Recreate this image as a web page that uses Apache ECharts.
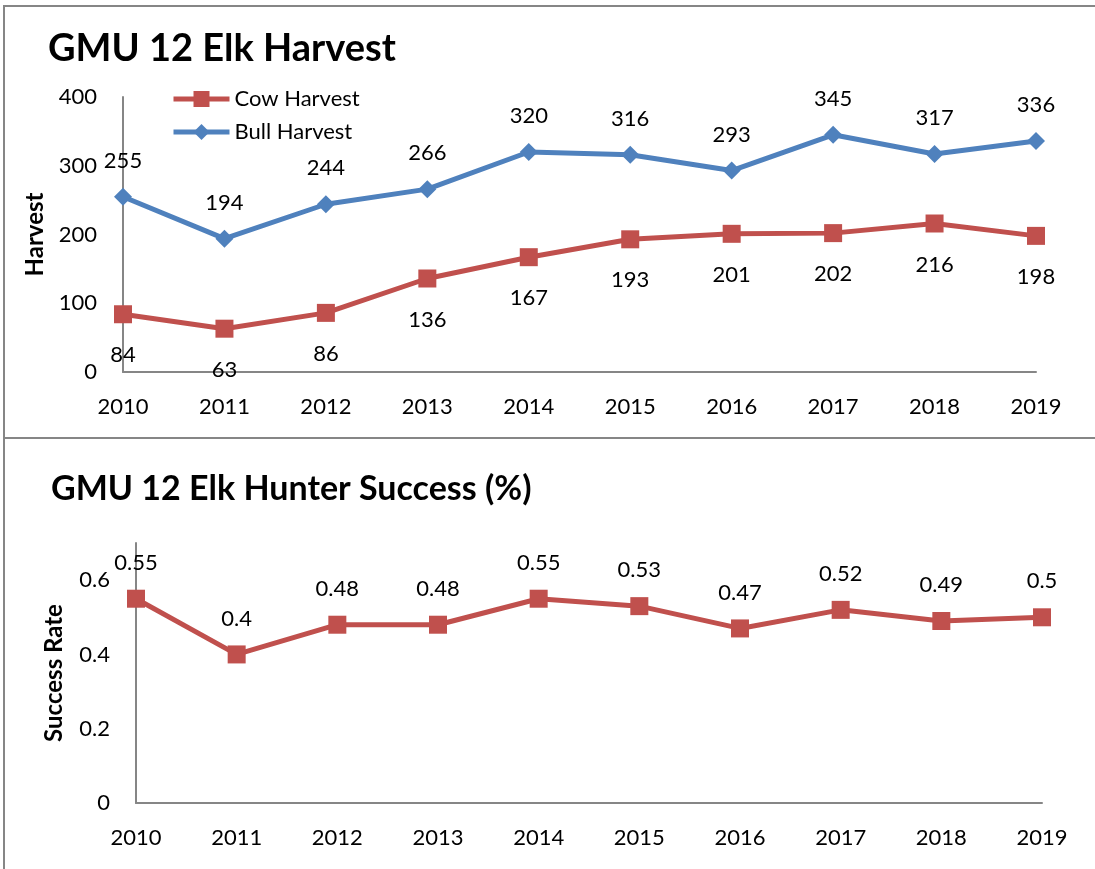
<!DOCTYPE html>
<html><head><meta charset="utf-8">
<script src="https://cdn.jsdelivr.net/npm/echarts@6/dist/echarts.min.js"></script>
<style>html,body{margin:0;padding:0;background:#fff}#c{width:1095px;height:869px}</style>
</head><body><div id="c"></div>
<script>
const years = ['2010','2011','2012','2013','2014','2015','2016','2017','2018','2019'];
const cowHarvest = [84, 63, 86, 136, 167, 193, 201, 202, 216, 198];
const bullHarvest = [255, 194, 244, 266, 320, 316, 293, 345, 317, 336];
const successRate = [0.55, 0.4, 0.48, 0.48, 0.55, 0.53, 0.47, 0.52, 0.49, 0.5];

const FONT = 'Lato';
const RED = '#C0504D', BLUE = '#4F81BD', AX = '#868686';
const chart = echarts.init(document.getElementById('c'), null, {renderer: 'canvas'});
const axisLab = {color: '#000', fontSize: 22, fontFamily: FONT};
const nameStyle = {fontSize: 24, fontWeight: 'bold', color: '#000', fontFamily: FONT};
chart.setOption({
  animation: false,
  textStyle: {fontFamily: FONT},
  title: [
    {text: 'GMU 12 Elk Harvest', left: 43, top: 25, textStyle: {fontSize: 38, fontWeight: 'bold', color: '#000', fontFamily: FONT}},
    {text: 'GMU 12 Elk Hunter Success (%)', left: 46, top: 467, textStyle: {fontSize: 34, fontWeight: 'bold', color: '#000', fontFamily: FONT}}
  ],
  legend: {
    orient: 'vertical', left: 166, top: 83, itemWidth: 56, itemHeight: 20, itemGap: 11,
    lineStyle: {width: 5},
    textStyle: {fontSize: 22, color: '#000', fontFamily: FONT},
    data: ['Cow Harvest', 'Bull Harvest']
  },
  grid: [
    {left: 123, right: 59, top: 97, bottom: 497},
    {left: 136, right: 53, top: 543, bottom: 66}
  ],
  xAxis: [
    {type: 'category', gridIndex: 0, data: years, boundaryGap: false,
     axisLine: {lineStyle: {color: AX, width: 2}}, axisTick: {show: false},
     axisLabel: Object.assign({margin: 24}, axisLab)},
    {type: 'category', gridIndex: 1, data: years, boundaryGap: false,
     axisLine: {lineStyle: {color: AX, width: 2}}, axisTick: {show: false},
     axisLabel: Object.assign({margin: 24}, axisLab)}
  ],
  yAxis: [
    {type: 'value', gridIndex: 0, min: 0, max: 400, interval: 100,
     name: 'Harvest', nameLocation: 'middle', nameGap: 76, nameRotate: 90,
     nameTextStyle: nameStyle,
     axisLine: {show: true, lineStyle: {color: AX, width: 2}}, axisTick: {show: false},
     splitLine: {show: false}, axisLabel: Object.assign({margin: 26}, axisLab)},
    {type: 'value', gridIndex: 1, min: 0, max: 0.7, interval: 0.2,
     name: 'Success Rate', nameLocation: 'middle', nameGap: 70, nameRotate: 90,
     nameTextStyle: nameStyle,
     axisLine: {show: true, lineStyle: {color: AX, width: 2}}, axisTick: {show: false},
     splitLine: {show: false},
     axisLabel: Object.assign({margin: 26, formatter: v => v > 0.65 ? '' : String(Math.round(v * 10) / 10)}, axisLab)}
  ],
  series: [
    {name: 'Cow Harvest', type: 'line', xAxisIndex: 0, yAxisIndex: 0, data: cowHarvest,
     symbol: 'rect', symbolSize: 18, itemStyle: {color: RED}, lineStyle: {color: RED, width: 5},
     label: {show: true, position: 'bottom', distance: 21, color: '#000', fontSize: 22, fontFamily: FONT}},
    {name: 'Bull Harvest', type: 'line', xAxisIndex: 0, yAxisIndex: 0, data: bullHarvest,
     symbol: 'diamond', symbolSize: [18, 18], itemStyle: {color: BLUE}, lineStyle: {color: BLUE, width: 5},
     label: {show: true, position: 'top', distance: 16, color: '#000', fontSize: 22, fontFamily: FONT}},
    {name: 'Success', type: 'line', xAxisIndex: 1, yAxisIndex: 1, data: successRate,
     symbol: 'rect', symbolSize: 18, itemStyle: {color: RED}, lineStyle: {color: RED, width: 5},
     label: {show: true, position: 'top', distance: 16, color: '#000', fontSize: 22, fontFamily: FONT}}
  ],
  graphic: [
    {type: 'rect', shape: {x: 4, y: 6, width: 1200, height: 432}, style: {fill: 'none', stroke: AX, lineWidth: 2}, silent: true, z: -1},
    {type: 'rect', shape: {x: 4, y: 438, width: 1200, height: 500}, style: {fill: 'none', stroke: AX, lineWidth: 2}, silent: true, z: -1}
  ]
});
</script></body></html>
